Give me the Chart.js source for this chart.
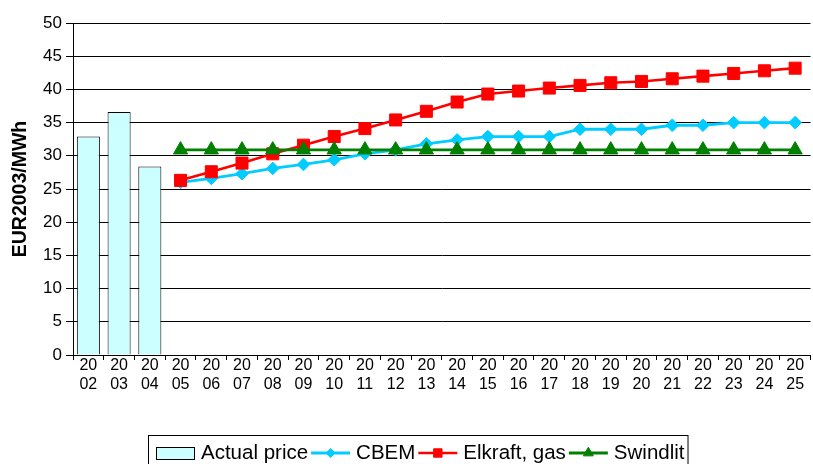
<!DOCTYPE html>
<html>
<head>
<meta charset="utf-8">
<script src="https://cdn.jsdelivr.net/npm/chart.js@4/dist/chart.umd.min.js"></script>
<style>
  html, body { margin: 0; padding: 0; background: #fff; overflow: hidden; }
  #wrap { width: 820px; height: 464px; }
</style>
</head>
<body>
<div id="wrap"><canvas id="priceChart" width="820" height="464"></canvas></div>
<script>
const years = ['2002', '2003', '2004', '2005', '2006', '2007', '2008', '2009', '2010', '2011', '2012', '2013',
  '2014', '2015', '2016', '2017', '2018', '2019', '2020', '2021', '2022', '2023', '2024', '2025']

const actualPrice = [32.9, 36.6, 28.4, null, null, null, null, null, null, null, null, null,
  null, null, null, null, null, null, null, null, null, null, null, null]

const cbem = [null, null, null, 26.0, 26.6, 27.3, 28.1, 28.7, 29.4, 30.3, 30.9, 31.8,
  32.4, 32.9, 32.9, 32.9, 34.0, 34.0, 34.0, 34.6, 34.6, 35.0, 35.0, 35.0]

const elkraftGas = [null, null, null, 26.3, 27.6, 28.9, 30.3, 31.6, 32.9, 34.1, 35.4, 36.7,
  38.1, 39.3, 39.75, 40.2, 40.6, 41.0, 41.2, 41.6, 42.0, 42.4, 42.8, 43.2]

const swindlit = [null, null, null, 30.9, 30.9, 30.9, 30.9, 30.9, 30.9, 30.9, 30.9, 30.9,
  30.9, 30.9, 30.9, 30.9, 30.9, 30.9, 30.9, 30.9, 30.9, 30.9, 30.9, 30.9]

const yTicks = { min: 0, max: 50, step: 5 }

const FONT = "'Liberation Sans', Arial, sans-serif"

// legend drawn in a box under the axis, like the Excel original
const boxLegend = {
  id: 'boxLegend',
  afterDraw(chart) {
    const ctx = chart.ctx
    const sampleW = 39
    const centerX = 418
    const top = 435
    const midY = 453
    ctx.save()
    ctx.font = '20.5px ' + FONT
    ctx.textBaseline = 'middle'
    const items = chart.data.datasets.map(ds => ({ ds, w: ctx.measureText(ds.label).width }))
    const total = items.reduce((s, it) => s + sampleW + 6 + it.w + 3, 0) + 8
    const left = Math.round(centerX - total / 2)
    ctx.strokeStyle = '#000'
    ctx.lineWidth = 1
    ctx.strokeRect(left + 0.5, top + 0.5, total, 40)
    let x = left + 8
    items.forEach(({ ds, w }) => {
      if (ds.type === 'line') {
        ctx.strokeStyle = ds.borderColor
        ctx.lineWidth = ds.borderWidth
        ctx.beginPath()
        ctx.moveTo(x, midY)
        ctx.lineTo(x + sampleW, midY)
        ctx.stroke()
        ctx.fillStyle = ds.borderColor
        ctx.strokeStyle = ds.borderColor
        ctx.lineWidth = 1
        Chart.helpers.drawPoint(ctx, { pointStyle: ds.pointStyle, radius: ds.pointRadius * 0.7, rotation: 0, borderWidth: 1 }, x + sampleW / 2, midY)
      } else {
        ctx.fillStyle = ds.backgroundColor
        ctx.fillRect(x, midY - 6, sampleW, 12)
        ctx.strokeStyle = '#000'
        ctx.lineWidth = 1
        ctx.strokeRect(x + 0.5, midY - 6 + 0.5, sampleW - 1, 12)
      }
      x += sampleW + 6
      ctx.fillStyle = '#000'
      ctx.fillText(ds.label, x, midY)
      x += w + 3
    })
    ctx.restore()
  }
}

new Chart(document.getElementById('priceChart'), {
  type: 'bar',
  data: {
    labels: years.map(y => [y.slice(0, 2), y.slice(2)]),
    datasets: [
      {
        type: 'bar',
        label: 'Actual price',
        data: actualPrice,
        backgroundColor: '#CCFFFF',
        borderColor: '#000',
        borderWidth: 1,
        barPercentage: 0.75,
        categoryPercentage: 1,
        order: 4
      },
      {
        type: 'line',
        label: 'CBEM',
        data: cbem,
        borderColor: '#00CCFF',
        backgroundColor: '#00CCFF',
        borderWidth: 2.8,
        pointStyle: 'rectRot',
        pointRadius: 6.3,
        pointBorderWidth: 1,
        order: 3
      },
      {
        type: 'line',
        label: 'Elkraft, gas',
        data: elkraftGas,
        borderColor: '#FF0000',
        backgroundColor: '#FF0000',
        borderWidth: 2.6,
        pointStyle: 'rect',
        pointRadius: 8.5,
        pointBorderWidth: 1,
        order: 2
      },
      {
        type: 'line',
        label: 'Swindlit',
        data: swindlit,
        borderColor: '#008000',
        backgroundColor: '#008000',
        borderWidth: 2.8,
        pointStyle: 'triangle',
        pointRadius: 8.2,
        pointBorderWidth: 1,
        order: 1
      }
    ]
  },
  options: {
    responsive: false,
    animation: false,
    layout: { padding: { top: 23, left: 0, right: 1, bottom: 0 } },
    plugins: {
      legend: { display: false },
      tooltip: { enabled: false }
    },
    scales: {
      x: {
        offset: true,
        afterFit: scale => { scale.height = 109 },
        grid: { offset: true, drawOnChartArea: false, drawTicks: true, tickLength: 5, color: '#000' },
        border: { display: true, color: '#000', width: 1 },
        ticks: { color: '#000', font: { family: FONT, size: 16, lineHeight: 1.2 }, padding: -4, maxRotation: 0, autoSkip: false }
      },
      y: {
        min: yTicks.min,
        max: yTicks.max,
        afterFit: scale => { scale.width = 73 },
        grid: { color: '#000', lineWidth: 1, tickLength: 7 },
        border: { display: true, color: '#000', width: 1 },
        ticks: { stepSize: yTicks.step, color: '#000', font: { family: FONT, size: 17 }, padding: 4 },
        title: {
          display: true,
          text: 'EUR2003/MWh',
          color: '#000',
          font: { family: FONT, size: 19.5, weight: 'bold' },
          padding: { top: 9, bottom: 0 }
        }
      }
    }
  },
  plugins: [boxLegend]
})
</script>
</body>
</html>
